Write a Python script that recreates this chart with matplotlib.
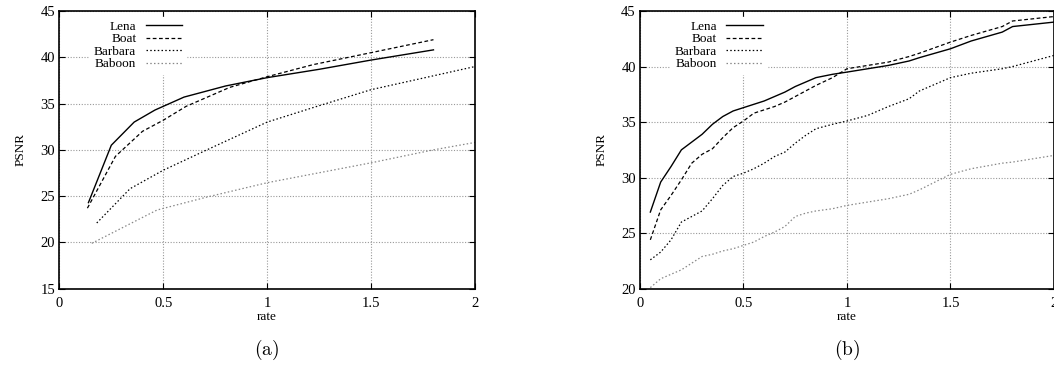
"""PSNR vs rate for four test images, two panels (a) and (b)."""
import matplotlib

matplotlib.use("Agg")
import matplotlib.pyplot as plt

plt.rcParams["font.family"] = ["Liberation Serif", "DejaVu Serif"]
plt.rcParams["mathtext.fontset"] = "cm"

images = ["Lena", "Boat", "Barbara", "Baboon"]

# panel (a)
rate_a_lena = [0.14, 0.25, 0.36, 0.46, 0.6, 0.8, 1.0, 1.25, 1.5, 1.8]
psnr_a_lena = [24.3, 30.5, 33.0, 34.3, 35.7, 36.9, 37.8, 38.7, 39.7, 40.8]
rate_a_boat = [0.135, 0.27, 0.4, 0.5, 0.61, 0.82, 1.0, 1.22, 1.5, 1.8]
psnr_a_boat = [23.7, 29.3, 32.0, 33.2, 34.7, 36.75, 37.9, 39.2, 40.5, 41.9]
rate_a_barbara = [0.18, 0.34, 0.5, 0.71, 1.0, 1.24, 1.5, 1.8, 2.0]
psnr_a_barbara = [22.1, 25.8, 27.8, 30.0, 33.0, 34.7, 36.5, 38.0, 39.0]
rate_a_baboon = [0.156, 0.47, 0.71, 1.0, 1.5, 1.8, 2.0]
psnr_a_baboon = [19.9, 23.5, 24.9, 26.45, 28.6, 30.0, 30.8]

# panel (b)
rate_b = [0.05, 0.1, 0.15, 0.2, 0.25, 0.3, 0.35, 0.4, 0.45, 0.5, 0.55, 0.6, 0.65, 0.7,
          0.75, 0.8, 0.85, 0.93, 1.0, 1.1, 1.2, 1.3, 1.35, 1.5, 1.6, 1.75, 1.8, 2.0]
psnr_b_lena = [26.9, 29.6, 31.0, 32.5, 33.2, 33.9, 34.8, 35.5, 36.0, 36.3, 36.6, 36.9, 37.3, 37.7,
               38.2, 38.6, 39.0, 39.3, 39.5, 39.8, 40.1, 40.5, 40.8, 41.6, 42.3, 43.1, 43.6, 44.0]
psnr_b_boat = [24.4, 27.1, 28.4, 29.8, 31.3, 32.1, 32.6, 33.6, 34.5, 35.1, 35.8, 36.1, 36.4, 36.8,
               37.3, 37.8, 38.3, 39.0, 39.8, 40.1, 40.4, 40.9, 41.2, 42.2, 42.8, 43.6, 44.1, 44.5]
psnr_b_barbara = [22.6, 23.3, 24.4, 26.0, 26.5, 27.0, 28.1, 29.3, 30.1, 30.4, 30.8, 31.3, 31.9, 32.3,
                  33.1, 33.8, 34.4, 34.8, 35.1, 35.6, 36.4, 37.1, 37.8, 39.0, 39.4, 39.8, 40.0, 41.0]
psnr_b_baboon = [20.1, 20.9, 21.3, 21.7, 22.3, 22.9, 23.1, 23.4, 23.6, 23.9, 24.2, 24.7, 25.1, 25.6,
                 26.5, 26.8, 27.0, 27.2, 27.5, 27.8, 28.1, 28.5, 28.9, 30.3, 30.8, 31.3, 31.4, 32.0]

styles = [
    dict(color="black", ls="-", lw=1.0),
    dict(color="black", ls=(0, (3, 2)), lw=0.9),
    dict(color="black", ls=(0, (1.2, 1.8)), lw=0.9),
    dict(color="#888888", ls=(0, (1.2, 1.8)), lw=0.9),
]


def draw_panel(ax, series, ylim, yticks):
    for (x, y), name, st in zip(series, images, styles):
        ax.plot(x, y, label=name, **st)
    ax.set_xlim(0, 2)
    ax.set_ylim(*ylim)
    ax.set_xticks([0, 0.5, 1, 1.5, 2])
    ax.set_xticklabels(["0", "0.5", "1", "1.5", "2"])
    ax.set_yticks(yticks)
    ax.grid(True, color="#999999", ls=(0, (1, 1.5)), lw=0.8)
    ax.tick_params(direction="in", top=True, right=True, length=4, labelsize=10.5, pad=3)
    ax.tick_params(axis="x", pad=6)
    for sp in ax.spines.values():
        sp.set_linewidth(1.2)
    ax.set_xlabel("rate", fontsize=9.5, labelpad=1)
    ax.set_ylabel("PSNR", fontsize=9.5, labelpad=10)
    leg = ax.legend(loc="upper left", bbox_to_anchor=(0.074, 0.98), markerfirst=False,
                    fontsize=9.5, handlelength=2.8, handletextpad=0.7, labelspacing=0.02,
                    frameon=True, fancybox=False, borderpad=0.3, borderaxespad=0)
    leg.get_frame().set_facecolor("white")
    leg.get_frame().set_edgecolor("white")
    leg.get_frame().set_alpha(1.0)


fig = plt.figure(figsize=(10.54, 3.70), dpi=100)
ax_a = fig.add_axes([0.0563, 0.2197, 0.3944, 0.7506])
ax_b = fig.add_axes([0.6072, 0.2197, 0.3928, 0.7506])

draw_panel(ax_a, [(rate_a_lena, psnr_a_lena), (rate_a_boat, psnr_a_boat),
                  (rate_a_barbara, psnr_a_barbara), (rate_a_baboon, psnr_a_baboon)],
           (15, 45), [15, 20, 25, 30, 35, 40, 45])
draw_panel(ax_b, [(rate_b, psnr_b_lena), (rate_b, psnr_b_boat),
                  (rate_b, psnr_b_barbara), (rate_b, psnr_b_baboon)],
           (20, 45), [20, 25, 30, 35, 40, 45])

fig.text(267 / 1054, 1 - 350 / 370, r"$\mathrm{(a)}$", fontsize=14, ha="center", va="center")
fig.text(847 / 1054, 1 - 350 / 370, r"$\mathrm{(b)}$", fontsize=14, ha="center", va="center")

fig.savefig("out.png", dpi=100)
